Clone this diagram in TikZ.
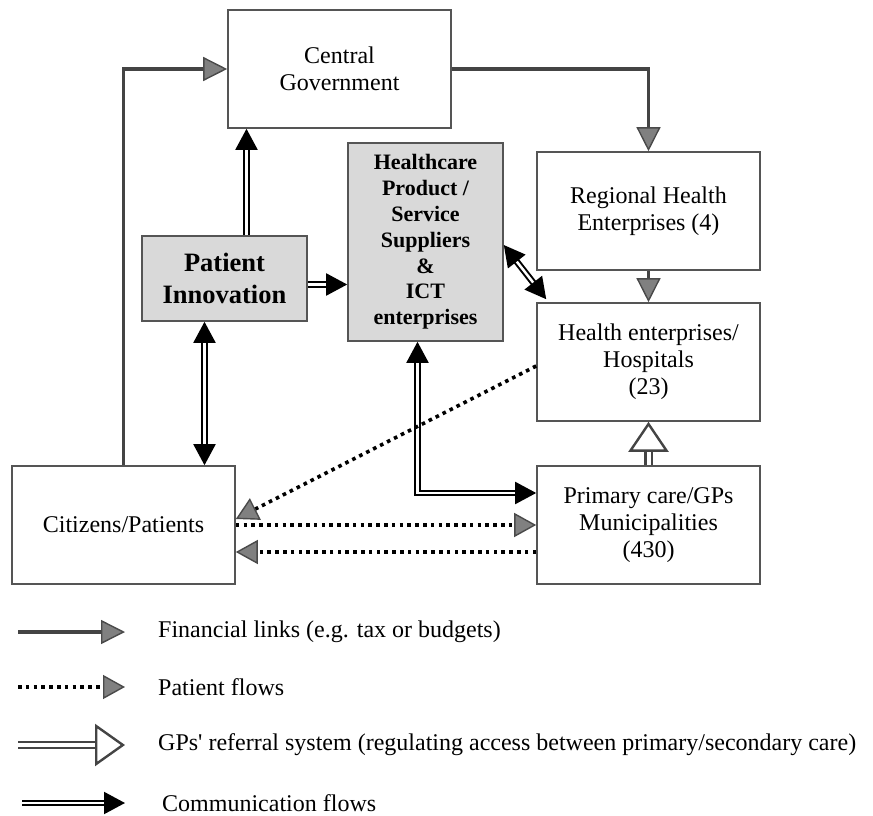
\documentclass[tikz,border=0pt]{standalone}
\usepackage{fontspec}
\setmainfont{Liberation Serif}
\usetikzlibrary{arrows.meta}
\definecolor{boxline}{HTML}{555555}
\definecolor{boxfill}{HTML}{D9D9D9}
\definecolor{finline}{HTML}{444444}
\definecolor{headfill}{HTML}{808080}
\definecolor{headline}{HTML}{4A4A4A}
\tikzset{
 box/.style={draw=boxline, line width=1.6pt, fill=white, minimum width=223pt, minimum height=118pt, inner sep=0pt, align=center, font=\fontsize{24}{27}\selectfont},
 gbox/.style={box, fill=boxfill},
 fin/.style={draw=finline, line width=3.4pt, -{Triangle[length=24pt,width=24pt,fill=headfill,color=headline,line width=1.4pt]}},
 pat/.style={draw=black, line width=3.6pt, dash pattern=on 3.6pt off 4.2pt, -{Triangle[length=22pt,width=24pt,fill=headfill,color=headline,line width=1.4pt]}},
 refer/.style={draw=finline, line width=2.4pt, double=white, double distance=4pt, -{Triangle[open, length=30pt, width=40pt, line width=2.4pt, fill=white]}},
 comm/.style={draw=black, line width=2pt, double=white, double distance=2.5pt, -{Triangle[length=21pt,width=22pt]}},
 commtwo/.style={draw=black, line width=2pt, double=white, double distance=2.5pt, {Triangle[length=21pt,width=22pt]}-{Triangle[length=21pt,width=22pt]}},
 legtext/.style={anchor=west, inner sep=0pt, font=\fontsize{24}{27}\selectfont}
}
\begin{document}
\begin{tikzpicture}[x=1pt,y=-1pt]
\useasboundingbox[fill=white] (0,0) rectangle (873,816);
% boxes
\node[box] (cg) at (339.5,69) {Central\\Government};
\node[box] (rhe) at (648.5,211) {Regional Health\\Enterprises (4)};
\node[box] (he) at (648.5,362) {Health enterprises/\\Hospitals\\(23)};
\node[box] (pc) at (648.5,525) {Primary care/GPs\\Municipalities\\(430)};
\node[box] (cit) at (123.5,525) {Citizens/Patients};
\node[gbox, minimum width=165pt, minimum height=85pt, font=\fontsize{26.5}{32}\selectfont\bfseries] (pi) at (224.5,278.5) {Patient\\Innovation};
\node[gbox, minimum width=155pt, minimum height=198pt, font=\fontsize{22}{25.8}\selectfont\bfseries] (sup) at (425.5,242) {Healthcare\\Product /\\Service\\Suppliers\\\&\\ICT\\enterprises};
% financial
\draw[fin] (cit.north) |- (cg.west);
\draw[fin] (cg.east) -| (rhe.north);
\draw[fin] (rhe.south) -- (he.north);
% referral
\draw[refer] (pc.north) -- (he.south);
% communication
\draw[comm] ([xshift=22pt]pi.north) -- ([xshift=22pt]pi.north |- cg.south);
\draw[comm] ([yshift=-6pt]pi.east) -- ([yshift=-6pt]pi.east -| sup.west);
\draw[commtwo] ([xshift=-20pt]pi.south) -- ([xshift=-20pt]pi.south |- cit.north);
\draw[commtwo] ([yshift=-3pt]sup.east) -- ([xshift=10pt,yshift=3pt]he.north west);
\draw[commtwo] ([xshift=-8pt]sup.south) |- ([yshift=32pt]pc.west);
% patient flows
\draw[pat] ([yshift=-4pt]he.west) -- ([yshift=6pt]cit.east);
\draw[pat] (cit.east) -- (pc.west);
\draw[pat] ([yshift=-27pt]pc.west) -- ([yshift=-27pt]cit.east);
% legend
\node[legtext] (l1) at (158,632) {Financial links (e.g. tax or budgets)};
\node[legtext] (l2) at (158,687) {Patient flows};
\node[legtext] (l3) at (158,745) {GPs\textquotesingle{} referral system (regulating access between primary/secondary care)};
\node[legtext] (l4) at (162,803) {Communication flows};
\coordinate (s1) at (18,632);
\coordinate (s2) at (18,687);
\coordinate (s3) at (18,745);
\coordinate (s4) at (22,803);
\draw[fin] (s1) -- ([xshift=-33pt]l1.west);
\draw[pat] (s2) -- ([xshift=-33pt]l2.west);
\draw[refer, -{Triangle[open, length=30pt, width=42pt, line width=2.4pt, fill=white]}] (s3) -- ([xshift=-33pt]l3.west);
\draw[comm] (s4) -- ([xshift=-37pt]l4.west);
\end{tikzpicture}
\end{document}
